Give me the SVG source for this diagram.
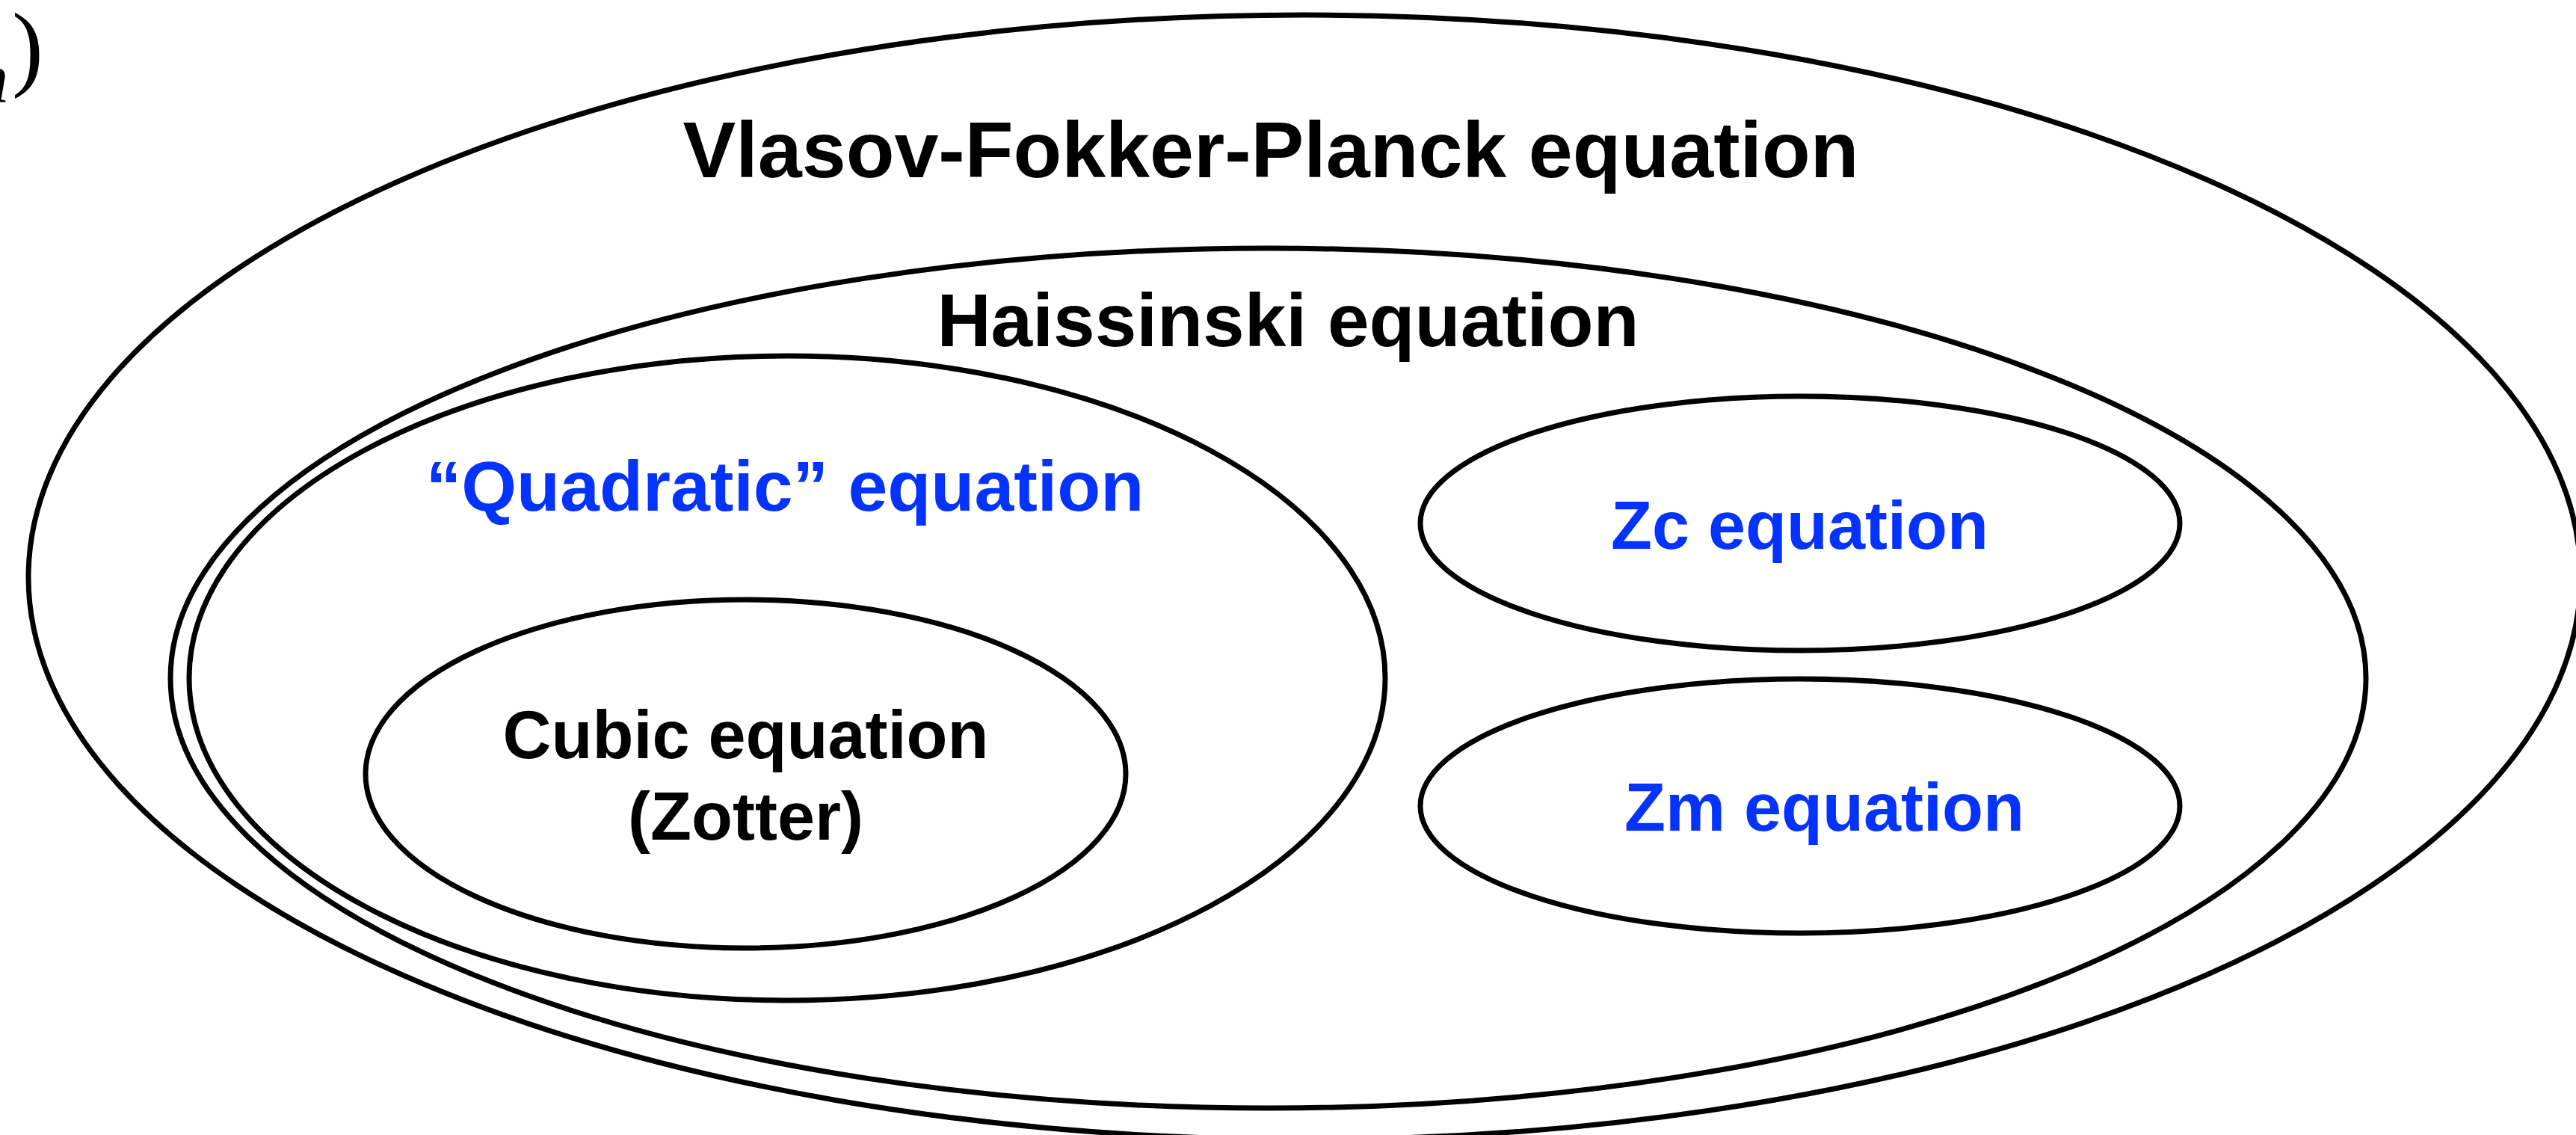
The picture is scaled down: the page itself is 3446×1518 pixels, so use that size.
<svg xmlns="http://www.w3.org/2000/svg" width="3446" height="1518" viewBox="0 0 3446 1518">
<style>
.set{fill:none;stroke:#000;stroke-width:7}
.lbl{font-family:"Liberation Sans",Arial,Helvetica,sans-serif;font-weight:bold;text-anchor:middle}
.blk{fill:#000}
.blu{fill:#0433FF}
.math{font-family:"Liberation Serif","Times New Roman",serif;fill:#000}
</style>
<rect width="3446" height="1518" fill="#fff"/>
<g id="math-fragment">
<text class="math" x="-36" y="137" font-size="95" font-style="italic">n</text>
<text class="math" x="16" y="105" font-size="126">)</text>
</g>
<g id="vlasov">
<ellipse class="set" cx="1745" cy="772" rx="1707" ry="752"/>
<text class="lbl blk" x="1700" y="237" font-size="106">Vlasov-Fokker-Planck equation</text>
</g>
<g id="haissinski">
<ellipse class="set" cx="1696.5" cy="907" rx="1468.5" ry="575"/>
<text class="lbl blk" x="1723" y="463" font-size="100">Haissinski equation</text>
</g>
<g id="quadratic">
<ellipse class="set" cx="1053" cy="907" rx="800" ry="431"/>
<text class="lbl blu" x="1050" y="683" font-size="95">“Quadratic” equation</text>
</g>
<g id="cubic">
<ellipse class="set" cx="997.5" cy="1035" rx="508.5" ry="233"/>
<text class="lbl blk" x="997.5" y="1014" font-size="90">Cubic equation</text>
<text class="lbl blk" x="997.5" y="1123" font-size="90">(Zotter)</text>
</g>
<g id="zc">
<ellipse class="set" cx="2408" cy="700" rx="508" ry="170"/>
<text class="lbl blu" x="2407.5" y="734" font-size="90">Zc equation</text>
</g>
<g id="zm">
<ellipse class="set" cx="2408" cy="1078" rx="508" ry="170"/>
<text class="lbl blu" x="2440.5" y="1111" font-size="90">Zm equation</text>
</g>
<g id="connectors"></g>
</svg>
